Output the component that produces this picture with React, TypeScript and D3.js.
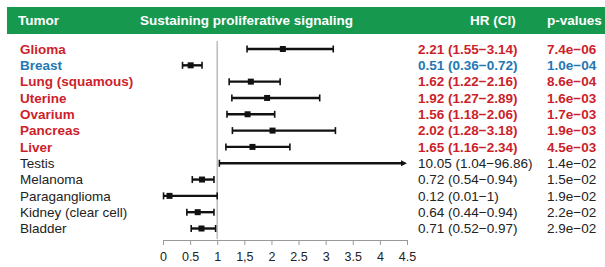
import React, { useEffect, useRef } from "react";
import * as d3 from "d3";

const tumors = ["Glioma", "Breast", "Lung (squamous)", "Uterine", "Ovarium", "Pancreas", "Liver", "Testis", "Melanoma", "Paraganglioma", "Kidney (clear cell)", "Bladder"];
const hr = [2.21, 0.51, 1.62, 1.92, 1.56, 2.02, 1.65, 10.05, 0.72, 0.12, 0.64, 0.71];
const lower = [1.55, 0.36, 1.22, 1.27, 1.18, 1.28, 1.16, 1.04, 0.54, 0.01, 0.44, 0.52];
const upper = [3.14, 0.72, 2.16, 2.89, 2.06, 3.18, 2.34, 96.86, 0.94, 1, 0.94, 0.97];
const hrLabels = ["2.21 (1.55\u22123.14)", "0.51 (0.36\u22120.72)", "1.62 (1.22\u22122.16)", "1.92 (1.27\u22122.89)", "1.56 (1.18\u22122.06)", "2.02 (1.28\u22123.18)", "1.65 (1.16\u22122.34)", "10.05 (1.04\u221296.86)", "0.72 (0.54\u22120.94)", "0.12 (0.01\u22121)", "0.64 (0.44\u22120.94)", "0.71 (0.52\u22120.97)"];
const pvals = ["7.4e\u221206", "1.0e\u221204", "8.6e\u221204", "1.6e\u221203", "1.7e\u221203", "1.9e\u221203", "4.5e\u221203", "1.4e\u221202", "1.5e\u221202", "1.9e\u221202", "2.2e\u221202", "2.9e\u221202"];
const kind = ["up", "down", "up", "up", "up", "up", "up", "none", "none", "none", "none", "none"];
const ticks = [0, 0.5, 1, 1.5, 2, 2.5, 3, 3.5, 4, 4.5];
const tickLabels = ["0", "0.5", "1", "1,5", "2", "2.5", "3", "3.5", "4", "4.5"];

const colorOf = (k: string) => (k === "up" ? "#cc1f2b" : k === "down" ? "#1f78b4" : "#222");

export default function App() {
  const ref = useRef<SVGSVGElement>(null);
  useEffect(() => {
    const node = ref.current; if (!node) return;
    const svg = d3.select(node);
    const w = 605, h = 267;
    svg.attr("viewBox", `0 0 ${w} ${h}`).selectAll("*").remove();
    const font = "'Liberation Sans', Arial, sans-serif";
    const x = d3.scaleLinear().domain([0, 4.5]).range([163, 407]);
    const y = d3.scalePoint<number>().domain(d3.range(tumors.length)).range([49, 228.5]);

    // header
    svg.append("rect").attr("x", 7).attr("y", 7).attr("width", w - 7).attr("height", 27).attr("fill", "#17984f");
    const hdr = [["Tumor", 18], ["Sustaining proliferative signaling", 140], ["HR (CI)", 470], ["p-values", 547]] as const;
    svg.append("g").selectAll("text").data(hdr).join("text")
      .attr("x", (d) => d[1]).attr("y", 20.5).attr("dy", "0.35em")
      .attr("font-family", font).attr("font-weight", "bold").attr("font-size", 13.5).attr("fill", "#fff")
      .text((d) => d[0]);

    // reference line at HR = 1
    svg.append("line").attr("x1", x(1)).attr("x2", x(1)).attr("y1", 41).attr("y2", 239)
      .attr("stroke", "#bbb").attr("stroke-width", 1.5);

    // axis
    const ax = svg.append("g").attr("transform", "translate(0,240)")
      .call(d3.axisBottom(x).tickValues(ticks).tickSize(5).tickSizeOuter(0).tickFormat((_, i) => tickLabels[i]));
    ax.select(".domain").attr("stroke", "#999");
    ax.selectAll(".tick line").attr("stroke", "#999");
    ax.selectAll(".tick text").attr("font-family", font).attr("font-size", 12.5).attr("fill", "#222").attr("y", 12);

    const idx = d3.range(tumors.length);
    const rows = svg.append("g").selectAll("g").data(idx).join("g").attr("transform", (i) => `translate(0,${y(i)})`);

    const cols: [number, (i: number) => string][] = [[20, (i) => tumors[i]], [418, (i) => hrLabels[i]], [547, (i) => pvals[i]]];
    cols.forEach(([cx, fn]) => {
      rows.append("text").attr("x", cx).attr("dy", "0.35em")
        .attr("font-family", font).attr("font-size", 13.5)
        .attr("font-weight", (i) => (kind[i] === "none" ? "normal" : "bold"))
        .attr("fill", (i) => colorOf(kind[i])).text(fn);
    });

    const xmax = 4.5;
    const clip = (v: number) => Math.min(v, xmax);
    rows.append("line").attr("x1", (i) => x(lower[i])).attr("x2", (i) => x(clip(upper[i])) - (upper[i] > xmax ? 4 : 0))
      .attr("stroke", "#111").attr("stroke-width", 2.4);
    rows.append("line").attr("x1", (i) => x(lower[i])).attr("x2", (i) => x(lower[i])).attr("y1", -3.5).attr("y2", 3.5)
      .attr("stroke", "#111").attr("stroke-width", 1.6);
    rows.filter((i) => upper[i] <= xmax).append("line")
      .attr("x1", (i) => x(upper[i])).attr("x2", (i) => x(upper[i])).attr("y1", -3.5).attr("y2", 3.5)
      .attr("stroke", "#111").attr("stroke-width", 1.6);
    rows.filter((i) => upper[i] > xmax).append("path")
      .attr("d", `M${x(xmax)},0 L${x(xmax) - 6},-3 L${x(xmax) - 6},3 Z`).attr("fill", "#111");
    rows.filter((i) => hr[i] <= xmax).append("rect")
      .attr("x", (i) => x(hr[i]) - 3).attr("y", -3).attr("width", 6).attr("height", 6).attr("fill", "#111");
  }, []);
  return <svg ref={ref} width={605} height={267} style={{ display: "block", position: "absolute", left: 0, top: 0 }} />;
}
